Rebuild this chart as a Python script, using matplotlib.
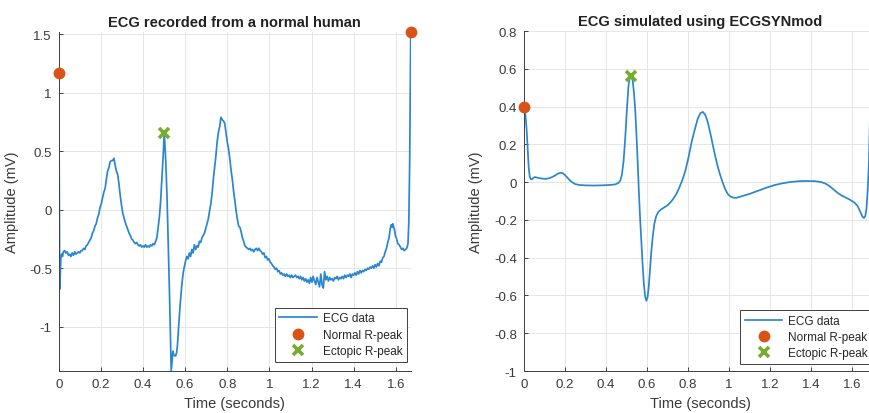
"""ECG traces: a recorded normal beat sequence next to an ECGSYNmod simulation."""
import matplotlib

matplotlib.use("Agg")
import matplotlib.pyplot as plt
from matplotlib.ticker import FuncFormatter, MultipleLocator

plt.rcParams["font.family"] = ["Liberation Sans", "DejaVu Sans"]

BLUE = "#2a86cf"
ORANGE = "#D95319"
GREEN = "#77AC30"
AXIS = "#404040"
GRID = "#e6e6e6"

# recorded ECG (seconds, mV)
T_REC = [
    0.000, 0.005, 0.010, 0.014, 0.018, 0.022, 0.028, 0.034, 0.040, 0.046, 0.052, 0.058,
    0.064, 0.070, 0.076, 0.082, 0.088, 0.094, 0.100, 0.106, 0.112, 0.118, 0.124, 0.130,
    0.136, 0.142, 0.148, 0.154, 0.160, 0.166, 0.172, 0.178, 0.184, 0.190, 0.196, 0.202,
    0.208, 0.214, 0.220, 0.226, 0.232, 0.238, 0.244, 0.250, 0.256, 0.262, 0.268, 0.274,
    0.280, 0.286, 0.292, 0.298, 0.304, 0.310, 0.316, 0.322, 0.328, 0.334, 0.340, 0.346,
    0.352, 0.358, 0.364, 0.370, 0.376, 0.382, 0.388, 0.394, 0.400, 0.406, 0.412, 0.418,
    0.424, 0.430, 0.436, 0.442, 0.448, 0.454, 0.460, 0.466, 0.472, 0.478, 0.484, 0.490,
    0.496, 0.501, 0.508, 0.514, 0.520, 0.526, 0.530, 0.534, 0.538, 0.542, 0.546, 0.550,
    0.555, 0.560, 0.564, 0.570, 0.577, 0.584, 0.590, 0.596, 0.602, 0.608, 0.614, 0.620,
    0.626, 0.632, 0.638, 0.644, 0.650, 0.656, 0.662, 0.668, 0.674, 0.680, 0.686, 0.692,
    0.698, 0.704, 0.710, 0.716, 0.722, 0.728, 0.734, 0.740, 0.746, 0.752, 0.758, 0.764,
    0.770, 0.776, 0.782, 0.788, 0.794, 0.800, 0.806, 0.812, 0.818, 0.824, 0.830, 0.836,
    0.842, 0.848, 0.854, 0.860, 0.866, 0.872, 0.878, 0.884, 0.890, 0.896, 0.902, 0.908,
    0.914, 0.920, 0.926, 0.932, 0.938, 0.944, 0.950, 0.956, 0.962, 0.968, 0.974, 0.980,
    0.986, 0.992, 0.998, 1.004, 1.010, 1.016, 1.022, 1.028, 1.034, 1.040, 1.046, 1.052,
    1.058, 1.064, 1.070, 1.076, 1.082, 1.088, 1.094, 1.100, 1.106, 1.112, 1.118, 1.124,
    1.130, 1.136, 1.142, 1.148, 1.154, 1.160, 1.166, 1.172, 1.178, 1.184, 1.190, 1.196,
    1.202, 1.208, 1.214, 1.220, 1.226, 1.232, 1.238, 1.244, 1.250, 1.256, 1.262, 1.268,
    1.274, 1.280, 1.286, 1.292, 1.298, 1.304, 1.310, 1.316, 1.322, 1.328, 1.334, 1.340,
    1.346, 1.352, 1.358, 1.364, 1.370, 1.376, 1.382, 1.388, 1.394, 1.400, 1.406, 1.412,
    1.418, 1.424, 1.430, 1.436, 1.442, 1.448, 1.454, 1.460, 1.466, 1.472, 1.478, 1.484,
    1.490, 1.496, 1.502, 1.508, 1.514, 1.520, 1.526, 1.532, 1.538, 1.544, 1.550, 1.556,
    1.562, 1.568, 1.574, 1.578, 1.582, 1.586, 1.590, 1.594, 1.598, 1.604, 1.610, 1.616,
    1.622, 1.628, 1.634, 1.640, 1.646, 1.652, 1.658, 1.662, 1.666, 1.671,
]
V_REC = [
    1.17, -0.68, -0.42, -0.38, -0.40, -0.36, -0.35, -0.37, -0.36, -0.39, -0.38, -0.40,
    -0.37, -0.39, -0.36, -0.38, -0.37, -0.36, -0.37, -0.35, -0.35, -0.33, -0.34, -0.31,
    -0.30, -0.28, -0.26, -0.24, -0.20, -0.18, -0.14, -0.12, -0.07, -0.04, 0.02, 0.05,
    0.10, 0.15, 0.18, 0.26, 0.33, 0.36, 0.41, 0.42, 0.42, 0.44, 0.38, 0.33,
    0.30, 0.22, 0.12, 0.04, -0.03, -0.07, -0.11, -0.14, -0.17, -0.20, -0.22, -0.25,
    -0.26, -0.28, -0.29, -0.28, -0.30, -0.31, -0.30, -0.32, -0.31, -0.32, -0.30, -0.32,
    -0.31, -0.32, -0.30, -0.31, -0.29, -0.30, -0.27, -0.24, -0.15, -0.06, 0.08, 0.27,
    0.47, 0.66, 0.42, 0.12, -0.30, -0.73, -1.05, -1.38, -1.30, -1.21, -1.24, -1.25,
    -1.25, -1.22, -1.15, -0.98, -0.80, -0.65, -0.55, -0.49, -0.44, -0.40, -0.42, -0.37,
    -0.40, -0.34, -0.37, -0.30, -0.34, -0.31, -0.32, -0.27, -0.28, -0.24, -0.22, -0.20,
    -0.16, -0.12, -0.08, -0.01, 0.05, 0.14, 0.26, 0.36, 0.46, 0.58, 0.66, 0.71,
    0.79, 0.77, 0.76, 0.74, 0.66, 0.58, 0.52, 0.44, 0.34, 0.26, 0.16, 0.08,
    -0.01, -0.08, -0.14, -0.15, -0.19, -0.24, -0.27, -0.31, -0.32, -0.33, -0.34, -0.33,
    -0.35, -0.34, -0.36, -0.34, -0.33, -0.35, -0.33, -0.35, -0.36, -0.38, -0.37, -0.41,
    -0.40, -0.43, -0.42, -0.45, -0.46, -0.48, -0.49, -0.51, -0.50, -0.53, -0.52, -0.55,
    -0.54, -0.56, -0.55, -0.57, -0.55, -0.57, -0.56, -0.58, -0.56, -0.58, -0.57, -0.56,
    -0.58, -0.57, -0.59, -0.57, -0.60, -0.58, -0.61, -0.59, -0.62, -0.60, -0.63, -0.58,
    -0.62, -0.57, -0.61, -0.64, -0.58, -0.62, -0.66, -0.55, -0.64, -0.67, -0.53, -0.60,
    -0.57, -0.61, -0.58, -0.60, -0.59, -0.61, -0.58, -0.59, -0.57, -0.60, -0.58, -0.59,
    -0.57, -0.59, -0.56, -0.58, -0.56, -0.57, -0.55, -0.58, -0.55, -0.56, -0.54, -0.56,
    -0.53, -0.55, -0.52, -0.54, -0.52, -0.53, -0.51, -0.52, -0.50, -0.51, -0.49, -0.50,
    -0.48, -0.50, -0.47, -0.49, -0.46, -0.48, -0.44, -0.45, -0.41, -0.40, -0.36, -0.33,
    -0.28, -0.24, -0.16, -0.13, -0.15, -0.12, -0.15, -0.17, -0.22, -0.25, -0.29, -0.30,
    -0.32, -0.34, -0.33, -0.35, -0.34, -0.33, -0.29, -0.10, 0.40, 1.52,
]
REC_NORMAL_T = [0.000, 1.671]
REC_NORMAL_V = [1.17, 1.52]
REC_ECTOPIC_T = [0.501]
REC_ECTOPIC_V = [0.66]

# ECGSYNmod output (seconds, mV)
T_SIM = [
    0.000, 0.008, 0.014, 0.019, 0.024, 0.029, 0.034, 0.040, 0.046, 0.054, 0.062, 0.072,
    0.082, 0.095, 0.110, 0.125, 0.140, 0.155, 0.168, 0.180, 0.190, 0.200, 0.210, 0.222,
    0.235, 0.250, 0.270, 0.300, 0.340, 0.380, 0.420, 0.445, 0.460, 0.470, 0.478, 0.486,
    0.494, 0.502, 0.510, 0.517, 0.523, 0.530, 0.537, 0.543, 0.549, 0.555, 0.561, 0.567,
    0.573, 0.579, 0.585, 0.591, 0.597, 0.603, 0.609, 0.615, 0.621, 0.628, 0.636, 0.645,
    0.655, 0.668, 0.682, 0.697, 0.712, 0.727, 0.742, 0.757, 0.772, 0.787, 0.802, 0.817,
    0.832, 0.847, 0.860, 0.872, 0.884, 0.896, 0.908, 0.920, 0.932, 0.944, 0.956, 0.968,
    0.980, 0.993, 1.006, 1.020, 1.035, 1.050, 1.070, 1.100, 1.140, 1.180, 1.220, 1.260,
    1.300, 1.340, 1.380, 1.420, 1.450, 1.470, 1.490, 1.510, 1.530, 1.550, 1.570, 1.590,
    1.610, 1.625, 1.638, 1.648, 1.656, 1.663, 1.669, 1.675, 1.681, 1.687, 1.693, 1.700,
    1.708, 1.717,
]
V_SIM = [
    0.400, 0.360, 0.280, 0.180, 0.080, 0.030, 0.015, 0.015, 0.022, 0.027, 0.025, 0.022,
    0.020, 0.018, 0.018, 0.021, 0.028, 0.037, 0.046, 0.050, 0.047, 0.038, 0.027, 0.012,
    0.000, -0.010, -0.015, -0.017, -0.018, -0.017, -0.015, -0.012, -0.005, 0.008, 0.040, 0.110,
    0.230, 0.380, 0.510, 0.555, 0.562, 0.540, 0.470, 0.380, 0.250, 0.100, -0.060, -0.200,
    -0.320, -0.440, -0.540, -0.605, -0.628, -0.610, -0.550, -0.460, -0.370, -0.290, -0.220, -0.180,
    -0.158, -0.145, -0.135, -0.125, -0.110, -0.090, -0.065, -0.030, 0.010, 0.060, 0.130, 0.210,
    0.275, 0.335, 0.365, 0.372, 0.356, 0.318, 0.262, 0.200, 0.140, 0.085, 0.040, 0.000,
    -0.035, -0.062, -0.076, -0.082, -0.083, -0.078, -0.072, -0.062, -0.046, -0.030, -0.016, -0.006,
    0.001, 0.005, 0.006, 0.005, 0.000, -0.008, -0.022, -0.040, -0.058, -0.072, -0.083, -0.094,
    -0.108, -0.125, -0.155, -0.180, -0.190, -0.180, -0.140, -0.040, 0.110, 0.400, 0.620, 0.720,
    0.760, 0.780,
]
SIM_NORMAL_T = [0.000, 1.717]
SIM_NORMAL_V = [0.40, 0.78]
SIM_ECTOPIC_T = [0.523]
SIM_ECTOPIC_V = [0.562]


def style_axes(ax, ylim, ystep):
    ax.set_axisbelow(True)
    ax.grid(True, color=GRID, lw=0.7)
    for side in ("top", "right"):
        ax.spines[side].set_visible(False)
    for side in ("left", "bottom"):
        ax.spines[side].set_color(AXIS)
        ax.spines[side].set_linewidth(0.7)
    ax.set_ylim(*ylim)
    ax.xaxis.set_major_locator(MultipleLocator(0.2))
    ax.yaxis.set_major_locator(MultipleLocator(ystep))
    fmt = FuncFormatter(lambda v, _: f"{v:g}" if abs(v) > 1e-9 else "0")
    ax.xaxis.set_major_formatter(fmt)
    ax.yaxis.set_major_formatter(fmt)
    ax.tick_params(direction="in", length=3, width=0.7, color=AXIS,
                   labelcolor="#3a3a3a", labelsize=9.5, pad=5)
    ax.set_xlabel("Time (seconds)", fontsize=10.5, color="#3a3a3a")
    ax.set_ylabel("Amplitude (mV)", fontsize=10.5, color="#3a3a3a")
    ax.yaxis.set_label_coords(-0.113, 0.5)


def panel(ax, t, v, nt, nv, et, ev, title, ylim, ystep, leg_anchor):
    ax.plot(t, v, color=BLUE, lw=1.25, label="ECG data")
    ax.plot(nt, nv, "o", color=ORANGE, ms=7.5, ls="none", clip_on=False,
            label="Normal R-peak", zorder=5)
    ax.plot(et, ev, "x", color=GREEN, ms=7, mew=2.6, ls="none", clip_on=False,
            label="Ectopic R-peak", zorder=5)
    ax.set_xlim(t[0], t[-1])
    style_axes(ax, ylim, ystep)
    ax.set_title(title, fontsize=10.5, fontweight="bold", color="#222222", pad=4)
    leg = ax.legend(loc="lower right", bbox_to_anchor=leg_anchor, borderaxespad=0,
                    fontsize=8.5, handlelength=3.2, handletextpad=0.5,
                    borderpad=0.38, labelspacing=0.37,
                    fancybox=False, framealpha=1, edgecolor=AXIS)
    leg.get_frame().set_linewidth(0.7)
    for txt in leg.get_texts():
        txt.set_color("#262626")


fig = plt.figure(figsize=(8.7, 4.14), dpi=100)
ax1 = fig.add_axes([0.0675, 0.1014, 0.4046, 0.8188])
ax2 = fig.add_axes([0.6020, 0.1014, 0.4053, 0.8212])

panel(ax1, T_REC, V_REC, REC_NORMAL_T, REC_NORMAL_V, REC_ECTOPIC_T, REC_ECTOPIC_V,
      "ECG recorded from a normal human", (min(V_REC), max(V_REC)), 0.5,
      (0.989, 0.028))
panel(ax2, T_SIM, V_SIM, SIM_NORMAL_T, SIM_NORMAL_V, SIM_ECTOPIC_T, SIM_ECTOPIC_V,
      "ECG simulated using ECGSYNmod", (-1.0, 0.8), 0.2,
      (0.989, 0.021))
ax2.yaxis.set_label_coords(-0.115, 0.5)

fig.savefig("out.png", dpi=100, facecolor="white")
